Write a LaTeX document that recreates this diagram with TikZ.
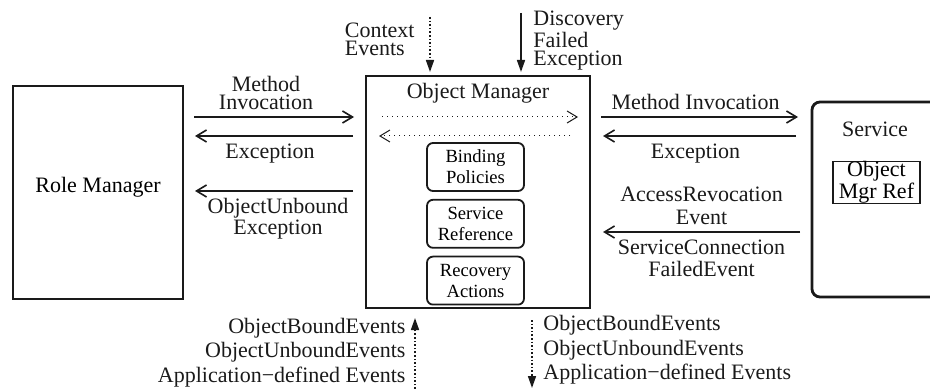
\documentclass[tikz,border=0pt]{standalone}
\usepackage{fontspec}
\setmainfont{Liberation Serif}
\usetikzlibrary{positioning,arrows.meta}
\definecolor{mwInk}{HTML}{1A1A1A}
\tikzset{
  mw-box/.style={draw=mwInk, line width=1.4pt, inner sep=0pt, align=center},
  mw-inner/.style={draw=mwInk, line width=0.9pt, rounded corners=3pt,
    minimum width=48.5pt, minimum height=24pt, inner sep=0pt, align=center,
    font=\fontsize{9.3}{10.5}\selectfont},
  mw-flow/.style={-{Straight Barb[length=5pt,width=6pt]}, line width=0.8pt,
    draw=mwInk},
  mw-dot/.style={mw-flow, line width=0.5pt, dotted},
  mw-evt/.style={-{Triangle[length=6pt,width=4pt]}, line width=0.8pt,
    draw=mwInk},
  mw-label/.style={font=\fontsize{11}{9}\selectfont, text=mwInk, align=center}
}

\begin{document}
\begin{tikzpicture}[x=0.5pt, y=-0.5pt, font=\fontsize{11}{9}\selectfont]
\useasboundingbox (0,0) rectangle (930,389);

% the three parties
\node[mw-box, minimum width=85pt, minimum height=106.5pt, text depth=7.4pt]
  (rm) at (98,192.5) {Role Manager};
\node[mw-box, minimum width=112pt, minimum height=116pt] (om) at (478,192) {};
\node[mw-label, below=1pt of om.north] (omtitle) {Object Manager};
\node[mw-inner] (bp) at (475.5,167) {Binding\\Policies};
\node[mw-inner, below=3.5pt of bp] (sr) {Service\\Reference};
\node[mw-inner, below=3.5pt of sr] (ra) {Recovery\\Actions};
\node[mw-box, rounded corners=4pt, minimum width=63pt, minimum height=97.5pt]
  (svc) at (875,199.5) {};
\node[mw-label, below=7pt of svc.north] (svctitle) {Service};
\node[mw-box, line width=0.9pt, minimum width=43.5pt, minimum height=20.5pt]
  (mgr) at (876.5,182.5) {Object\\Mgr Ref};

% ends of the flows
\coordinate (rm-mi) at (194,117);  \coordinate (om-mi) at (354,117);
\coordinate (om-ex) at (353,136);  \coordinate (rm-ex) at (195,136);
\coordinate (om-ou) at (353,191);  \coordinate (rm-ou) at (195,191);
\coordinate (om-rmi) at (601,117); \coordinate (svc-mi) at (798,117);
\coordinate (svc-ex) at (796,136); \coordinate (om-rex) at (603,136);
\coordinate (svc-ar) at (800,232); \coordinate (om-ar) at (603,232);
\coordinate (dot1-s) at (382,117); \coordinate (dot1-e) at (578,117);
\coordinate (dot2-s) at (570,136); \coordinate (dot2-e) at (379,136);
\coordinate (ctx-s) at (430,17);   \coordinate (ctx-e) at (430,72);
\coordinate (dfe-s) at (521,13);   \coordinate (dfe-e) at (521,72);
\coordinate (up-s) at (415,389);   \coordinate (up-e) at (415,318);
\coordinate (dn-s) at (532,320);   \coordinate (dn-e) at (532,388);

% role manager <-> object manager
\draw[mw-flow] (rm-mi) -- node[mw-label, above, xshift=-4pt]
  {Method\\Invocation} (om-mi);
\draw[mw-flow] (om-ex) -- node[mw-label, below, xshift=-2pt] {Exception} (rm-ex);
\draw[mw-flow] (om-ou) -- node[mw-label, below, xshift=2pt]
  {ObjectUnbound\\Exception} (rm-ou);

% object manager <-> service
\draw[mw-flow] (om-rmi) -- node[mw-label, above, xshift=-2pt]
  {Method Invocation} (svc-mi);
\draw[mw-flow] (svc-ex) -- node[mw-label, below, xshift=-2pt] {Exception} (om-rex);
\draw[mw-flow] (svc-ar)
  -- node[mw-label, above, font=\fontsize{11}{11.5}\selectfont]
     {AccessRevocation\\Event}
     node[mw-label, below, font=\fontsize{11}{11}\selectfont]
     {ServiceConnection\\FailedEvent} (om-ar);

% inside the object manager
\draw[mw-dot] (dot1-s) -- (dot1-e);
\draw[mw-dot] (dot2-s) -- (dot2-e);

% events
\draw[mw-evt, densely dotted] (ctx-s) -- node[mw-label, left, align=left,
  xshift=-4pt, yshift=2.75pt] {Context\\Events} (ctx-e);
\draw[mw-evt] (dfe-s) -- node[mw-label, right, align=left, xshift=2.5pt,
  yshift=1pt, font=\fontsize{11}{8.75}\selectfont]
  {Discovery\\Failed\\Exception} (dfe-e);
\draw[mw-evt, densely dotted] (up-s) -- node[mw-label, left, align=right,
  xshift=-1pt, yshift=0.5pt, font=\fontsize{11}{12.25}\selectfont]
  {ObjectBoundEvents\\ObjectUnboundEvents\\Application−defined Events} (up-e);
\draw[mw-evt, densely dotted] (dn-s) -- node[mw-label, right, align=left,
  xshift=2pt, yshift=2pt, font=\fontsize{11}{12.25}\selectfont]
  {ObjectBoundEvents\\ObjectUnboundEvents\\Application−defined Events} (dn-e);
\end{tikzpicture}
\end{document}
